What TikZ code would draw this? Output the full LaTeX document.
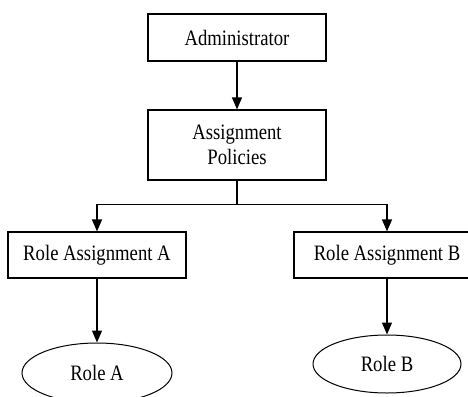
\documentclass[tikz,border=0pt]{standalone}
\usepackage{fontspec}
\setmainfont{Liberation Serif}[FakeStretch=0.85]
\usetikzlibrary{arrows.meta,shapes.geometric}
\begin{document}
\begin{tikzpicture}[x=1pt,y=1pt,
  every node/.style={font=\fontsize{22}{25}\selectfont, align=center, inner sep=0pt},
  box/.style={draw, line width=1.2pt, minimum width=178pt},
  role/.style={draw, ellipse, line width=1pt, minimum width=150pt, minimum height=60pt},
  link/.style={line width=1.2pt, -{Triangle[length=12pt,width=10pt]}}]
\useasboundingbox (0,0) rectangle (468,-396);
\node[box, minimum height=47pt] (admin) at (237,-37.5) {Administrator};
\node[box, minimum height=70pt] (policies) at (237,-145) {Assignment\\Policies};
\node[box, minimum height=46pt] (raA) at (97,-255) {Role Assignment A};
\node[box, minimum height=46pt, minimum width=186pt] (raB) at (387,-255) {Role Assignment B};
\node[role] (roleA) at (97,-373) {Role A};
\node[role, minimum width=148pt, minimum height=58pt] (roleB) at (387,-364) {Role B};
\draw[link] (admin.south) -- (policies.north);
\draw[link] (policies.south) -- ++(0,-24) -| (raA.north);
\draw[link] (policies.south) -- ++(0,-24) -| (raB.north);
\draw[link] (raA.south) -- (roleA.north);
\draw[link] (raB.south) -- (roleB.north);
\end{tikzpicture}
\end{document}
